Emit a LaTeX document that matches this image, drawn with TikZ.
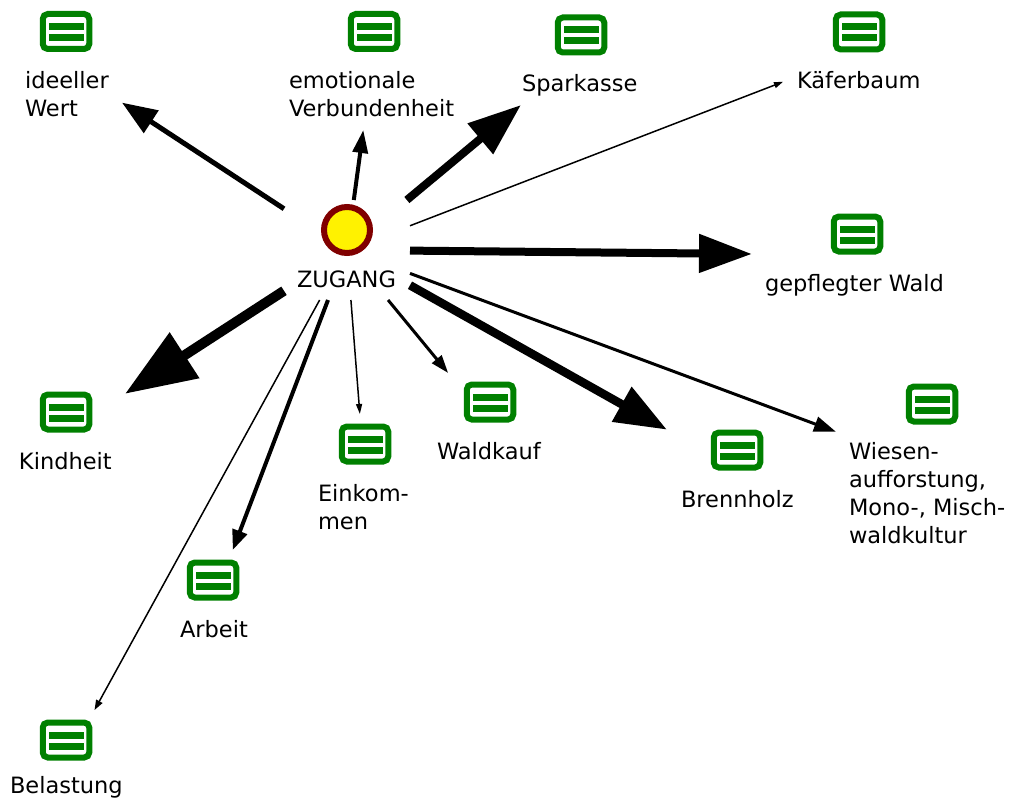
\documentclass[tikz,border=0pt]{standalone}
\usepackage{fontspec}
\setmainfont{DejaVu Sans}
\usetikzlibrary{arrows.meta}
\definecolor{cardgreen}{RGB}{0,128,0}
\definecolor{hubred}{RGB}{128,0,0}
\tikzset{
  hit/.style 2 args={rectangle,inner sep=0pt,outer sep=0pt,minimum width=#1pt,minimum height=#2pt},
  card/.style={rectangle,rounded corners=5pt,draw=cardgreen,line width=6pt,fill=white,
    inner sep=0pt,minimum width=46.5pt,minimum height=35pt,
    path picture={
      \fill[cardgreen,sharp corners] ([xshift=-17.5pt,yshift=8.5pt]path picture bounding box.center) rectangle ([xshift=17.5pt,yshift=1.5pt]path picture bounding box.center);
      \fill[cardgreen,sharp corners] ([xshift=-17.5pt,yshift=-2.5pt]path picture bounding box.center) rectangle ([xshift=17.5pt,yshift=-9.5pt]path picture bounding box.center);
    }},
  hub/.style={circle,draw=hubred,line width=6pt,fill=yellow,inner sep=0pt,minimum size=46pt},
  word/.style={inner sep=0pt,outer sep=0pt,anchor=north west,align=left,font=\fontsize{22.5}{28}\selectfont,text=black},
  link/.style n args={3}{line width=#1pt,-{Triangle[length=#2pt,width=#3pt]}}
}
\begin{document}
\begin{tikzpicture}[x=1pt,y=-1pt]
      \useasboundingbox (0,0) rectangle (1013,800);
      \draw
        (347,250) node[hit={126}{100}] (zugang){}
        (66,66) node[hit={112}{128}] (ideell){}
        (372,66) node[hit={180}{128}] (emotion){}
        (581,55) node[hit={120}{100}] (sparkasse){}
        (858,53) node[hit={150}{100}] (kaefer){}
        (855,255) node[hit={206}{100}] (wald){}
        (66,432) node[hit={118}{90}] (kindheit){}
        (931,467) node[hit={190}{170}] (wiese){}
        (737,469) node[hit={140}{90}] (brennholz){}
        (490,424) node[hit={120}{102}] (waldkauf){}
        (365,480) node[hit={120}{132}] (einkommen){}
        (213,602) node[hit={100}{104}] (arbeit){}
        (66,762) node[hit={120}{104}] (belastung){};
      \draw
        (347,230) node[hub] (zugangicon){}
        (66,31.5) node[card] (ideellicon){}
        (374,31.5) node[card] (emotionicon){}
        (581,35) node[card] (sparkasseicon){}
        (859,32) node[card] (kaefericon){}
        (857,234) node[card] (waldicon){}
        (66,412) node[card] (kindheiticon){}
        (932,404) node[card] (wieseicon){}
        (737,450) node[card] (brennholzicon){}
        (490,402) node[card] (waldkaufticon){}
        (365,444) node[card] (einkommenicon){}
        (213,580) node[card] (arbeiticon){}
        (66,740) node[card] (belastungicon){};
      \draw
        (297,271) node[word] (zugangtext){ZUGANG}
        (25,71) node[word] (ideelltext){ideeller\\Wert}
        (289,71) node[word] (emotiontext){emotionale\\Verbundenheit}
        (522,74) node[word] (sparkassetext){Sparkasse}
        (797,71) node[word] (kaefertext){Käferbaum}
        (765,274) node[word] (waldtext){gepflegter Wald}
        (19,452) node[word] (kindheittext){Kindheit}
        (849,442) node[word] (wiesetext){Wiesen-\\aufforstung,\\Mono-, Misch-\\waldkultur}
        (681,490) node[word] (brennholztext){Brennholz}
        (437,442) node[word] (waldkauftext){Waldkauf}
        (318,484) node[word] (einkommentext){Einkom-\\men}
        (180,620) node[word] (arbeittext){Arbeit}
        (10,776.5) node[word] (belastungtext){Belastung};
      \begin{scope}[-]
        \draw[link={5}{35}{26}] (zugang) to (ideell);
        \draw[link={4}{23}{15}] (zugang) to (emotion);
        \draw[link={8}{53}{38}] (zugang) to (sparkasse);
        \draw[link={1.5}{9}{6}] (zugang) to (kaefer);
        \draw[link={8}{53}{37}] (zugang) to (wald);
        \draw[link={10}{71}{52}] (zugang) to (kindheit);
        \draw[link={3}{22}{15}] (zugang) to (wiese);
        \draw[link={8.5}{52}{38}] (zugang) to (brennholz);
        \draw[link={3}{18}{12}] (zugang) to (waldkauf);
        \draw[link={1.5}{10}{6}] (zugang) to (einkommen);
        \draw[link={4}{20}{15}] (zugang) to (arbeit);
        \draw[link={1.5}{10}{7}] (zugang) to (belastung);
      \end{scope}
    \end{tikzpicture}
\end{document}
